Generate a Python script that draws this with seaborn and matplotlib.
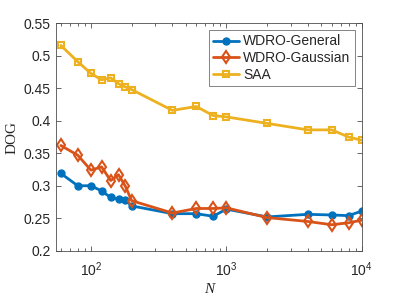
import numpy as np
import pandas as pd
import matplotlib
matplotlib.use("Agg")
import matplotlib.pyplot as plt
import seaborn as sns
from matplotlib.ticker import LogLocator, NullFormatter

# data
N = [60, 80, 100, 120, 140, 160, 180, 200, 400, 600, 800, 1000, 2000, 4000, 6000, 8000, 10000]
general = [0.319, 0.300, 0.300, 0.292, 0.282, 0.279, 0.278, 0.269, 0.257, 0.257, 0.253, 0.264,
           0.252, 0.256, 0.255, 0.254, 0.261]
gaussian = [0.362, 0.347, 0.324, 0.329, 0.308, 0.317, 0.299, 0.277, 0.258, 0.265, 0.265, 0.266,
            0.251, 0.245, 0.240, 0.243, 0.247]
saa = [0.516, 0.491, 0.473, 0.463, 0.466, 0.457, 0.452, 0.448, 0.416, 0.422, 0.408, 0.406,
       0.396, 0.386, 0.386, 0.375, 0.370]

sns.set_style("ticks")
plt.rcParams['font.family'] = ['Liberation Sans', 'DejaVu Sans']

fig = plt.figure(figsize=(3.99, 2.99), dpi=100)
ax = fig.add_axes([0.1396, 0.1615, 0.767, 0.7605])

sns.lineplot(x=N, y=general, ax=ax, color='#0072BD', lw=2, marker='o', ms=5,
             markeredgecolor='#0072BD', markeredgewidth=1, label='WDRO-General')
sns.lineplot(x=N, y=gaussian, ax=ax, color='#D95319', lw=2, marker='d', ms=6,
             markerfacecolor='none', markeredgecolor='#D95319', markeredgewidth=1.5,
             label='WDRO-Gaussian')
sns.lineplot(x=N, y=saa, ax=ax, color='#EDB120', lw=2, marker='s', ms=5,
             markerfacecolor='none', markeredgecolor='#EDB120', markeredgewidth=1.5,
             label='SAA')

ax.set_xscale('log')
ax.set_xlim(55, 10000)
ax.set_ylim(0.2, 0.55)
ax.set_yticks([0.2, 0.25, 0.3, 0.35, 0.4, 0.45, 0.5, 0.55])
ax.set_yticklabels(['0.2', '0.25', '0.3', '0.35', '0.4', '0.45', '0.5', '0.55'])
ax.xaxis.set_minor_locator(LogLocator(base=10, subs=np.arange(2, 10), numticks=20))
ax.xaxis.set_minor_formatter(NullFormatter())

for s in ax.spines.values():
    s.set_color('0.3')
    s.set_linewidth(0.6)
ax.tick_params(which='both', direction='in', top=True, right=True, colors='0.3',
               labelcolor='0.15', labelsize=10, width=0.6)
ax.tick_params(which='major', length=3.5)
ax.tick_params(which='minor', length=2)
ax.tick_params(axis='x', which='major', pad=7)

ax.set_xlabel('N', fontsize=11, family='Liberation Serif', style='italic', labelpad=3)
ax.set_ylabel('DOG', fontsize=11, family='Liberation Serif', labelpad=4)

leg = ax.legend(loc='upper right', fontsize=10, frameon=True, fancybox=False,
                handlelength=1.9, labelspacing=0.2, borderpad=0.3,
                handletextpad=0.3, borderaxespad=0.5)
leg.get_frame().set_edgecolor('0.3')
leg.get_frame().set_linewidth(0.6)

plt.savefig('out.png', dpi=100)
plt.close()
